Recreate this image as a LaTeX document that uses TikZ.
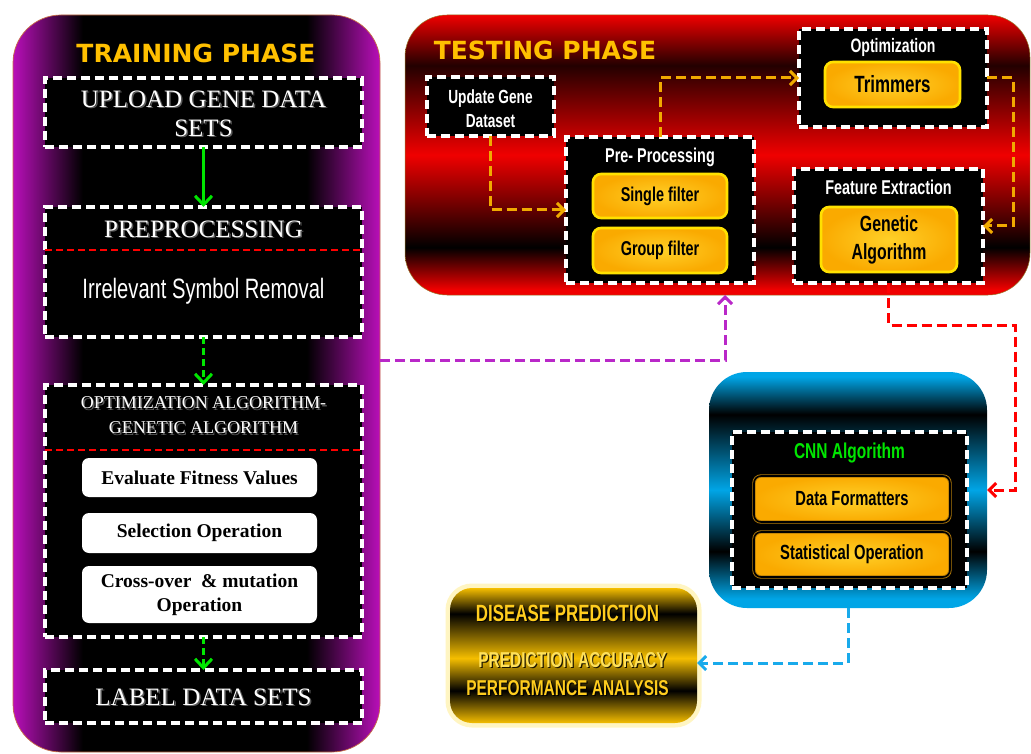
\documentclass[tikz,border=0pt]{standalone}
\usepackage{fontspec}
\setmainfont{Liberation Serif}
\newfontfamily\decofont{Liberation Serif}
\newfontfamily\condfont[FakeStretch=0.72]{Liberation Sans}
\newfontfamily\titlefont{DejaVu Sans}
\usetikzlibrary{arrows.meta,calc}

\definecolor{magc}{RGB}{185,15,185}
\definecolor{redc}{RGB}{240,0,0}
\definecolor{redk}{RGB}{35,0,0}
\definecolor{bluec}{RGB}{0,165,230}
\definecolor{goldc}{RGB}{245,190,0}
\definecolor{titlegold}{RGB}{255,192,0}
\definecolor{olight}{RGB}{255,208,40}
\definecolor{odark}{RGB}{250,170,0}
\definecolor{oedge}{RGB}{255,225,0}
\definecolor{cbrown}{RGB}{175,120,10}
\definecolor{arrowor}{RGB}{240,170,0}
\definecolor{greenc}{RGB}{0,230,0}
\definecolor{purpc}{RGB}{185,40,200}
\definecolor{arrowblue}{RGB}{25,170,235}
\definecolor{cnngreen}{RGB}{0,230,0}
\definecolor{disgold}{RGB}{255,205,30}
\definecolor{decoshadow}{RGB}{90,90,90}

\pgfdeclarehorizontalshading{trainsh}{100bp}{color(0bp)=(magc); color(25bp)=(magc); color(34.5bp)=(black); color(65bp)=(black); color(75bp)=(magc); color(100bp)=(magc)}
\pgfdeclareverticalshading{testsh}{100bp}{color(0bp)=(redc); color(26bp)=(redc); color(33.5bp)=(black); color(50bp)=(redc); color(66bp)=(redk); color(75bp)=(redc); color(100bp)=(redc)}
\pgfdeclareverticalshading{cnnsh}{100bp}{color(0bp)=(bluec); color(27bp)=(bluec); color(37bp)=(black); color(50bp)=(bluec); color(66bp)=(black); color(74bp)=(bluec); color(100bp)=(bluec)}
\pgfdeclareverticalshading{dissh}{100bp}{color(0bp)=(goldc); color(25bp)=(goldc); color(37bp)=(black); color(49bp)=(goldc); color(65.5bp)=(black); color(75bp)=(goldc); color(100bp)=(goldc)}

\tikzset{
  dbox/.style={draw=white, fill=black, line width=3.2pt, dash pattern=on 9pt off 5pt, inner sep=0pt, outer sep=0pt},
  obox/.style={draw=oedge, line width=2.6pt, rounded corners=8pt, inner color=olight, outer color=odark, inner sep=0pt, outer sep=0pt, text=black, align=center},
  cbox/.style={draw=cbrown, double=black, double distance=1.6pt, line width=0.9pt, rounded corners=7pt, inner color=olight, outer color=odark, inner sep=0pt, text=black, font=\condfont\bfseries\fontsize{20.5}{24}\selectfont},
  wbox/.style={fill=white, rounded corners=7pt, inner sep=0pt, align=center, text=black, font=\bfseries\fontsize{19.5}{24}\selectfont},
  deco/.style={text=white, inner sep=0pt, align=center, font=\decofont\fontsize{25}{29}\selectfont},
  decosh/.style={deco, text=decoshadow},
  cond/.style={text=white, inner sep=0pt, align=center, font=\condfont\bfseries\fontsize{20}{24}\selectfont},
  phasetitle/.style={text=titlegold, inner sep=0pt, font=\titlefont\bfseries\fontsize{25}{30}\selectfont},
  distxt/.style={text=disgold, inner sep=0pt, font=\condfont\bfseries\fontsize{21.5}{26}\selectfont},
  disshadow/.style={text=black, opacity=0.85, inner sep=0pt, font=\condfont\bfseries\fontsize{21.5}{26}\selectfont},
  tip/.style={-{Straight Barb[length=7pt,width=14pt,line width=3pt]}},
  garrow/.style={-{Straight Barb[length=9pt,width=17pt,line width=3pt]}, draw=greenc, line width=3.2pt},
  gdarrow/.style={garrow, dash pattern=on 7pt off 4pt},
  oarrow/.style={tip, draw=arrowor, line width=3pt, dash pattern=on 10pt off 5pt},
  rarrow/.style={tip, draw=red, line width=3pt, dash pattern=on 10pt off 5pt},
  parrow/.style={tip, draw=purpc, line width=3pt, dash pattern=on 10pt off 5pt},
  barrow/.style={tip, draw=arrowblue, line width=3pt, dash pattern=on 10pt off 5pt},
  sepline/.style={draw=red, line width=2.2pt, dash pattern=on 7pt off 4pt},
}

\begin{document}
\begin{tikzpicture}[x=1pt,y=-1pt]
\useasboundingbox (0,0) rectangle (1031,754);
\fill[white] (0,0) rectangle (1031,754);

% ---------------- TRAINING PHASE ----------------
\node[shade, shading=trainsh, draw={rgb,255:red,200;green,110;blue,70}, line width=0.7pt,
      rounded corners=48pt, minimum width=367pt, minimum height=737pt, inner sep=0pt, outer sep=0pt]
      (train) at (196.5,383.5) {};
\node[phasetitle] (trtitle) at (196,53) {TRAINING PHASE};

\node[dbox, minimum width=317pt, minimum height=69pt] (upl) at (203.5,112.5) {};
\node[decosh] (upltxts) at (205,115) {UPLOAD GENE DATA\\SETS};
\node[deco] (upltxt) at (203.5,113.5) {UPLOAD GENE DATA\\SETS};

\node[dbox, minimum width=317pt, minimum height=130pt] (prep) at (203.5,272) {};
\draw[sepline] ([yshift=-43pt]prep.north west) -- ([yshift=-43pt]prep.north east);
\node[decosh] (preptitles) at (205,230.5) {PREPROCESSING};
\node[deco] (preptitle) at (203.5,229) {PREPROCESSING};
\node[cond, font=\condfont\fontsize{28}{32}\selectfont] (preptxt) at (203.5,291) {Irrelevant Symbol Removal};

\node[dbox, minimum width=317pt, minimum height=252pt] (opt) at (203.5,511) {};
\draw[sepline] ([yshift=-65pt]opt.north west) -- ([yshift=-65pt]opt.north east);
\node[decosh, font=\decofont\fontsize{18}{25}\selectfont] (opttitles) at (205,417) {OPTIMIZATION ALGORITHM-\\GENETIC ALGORITHM};
\node[deco, font=\decofont\fontsize{18}{25}\selectfont] (opttitle) at (203.5,415.5) {OPTIMIZATION ALGORITHM-\\GENETIC ALGORITHM};
\node[wbox, minimum width=235pt, minimum height=39pt] (ev) at (199.5,477.5) {Evaluate Fitness Values};
\node[wbox, minimum width=235pt, minimum height=40pt] (sel) at (199.5,533) {Selection Operation};
\node[wbox, minimum width=235pt, minimum height=57pt] (cro) at (199.5,594.5) {Cross-over \ \& mutation\\Operation};

\node[dbox, minimum width=317pt, minimum height=53pt] (lab) at (203.5,696.5) {};
\node[decosh] (labtxts) at (205,698.5) {LABEL DATA SETS};
\node[deco] (labtxt) at (203.5,697) {LABEL DATA SETS};

\draw[garrow] (upl.south) -- (prep.north);
\draw[gdarrow] (prep.south) -- (opt.north);
\draw[gdarrow] (opt.south) -- (lab.north);

% ---------------- TESTING PHASE ----------------
\node[shade, shading=testsh, draw={rgb,255:red,150;green,120;blue,40}, line width=0.5pt,
      rounded corners=42pt, minimum width=625pt, minimum height=280pt, inner sep=0pt, outer sep=0pt]
      (test) at (717.5,155) {};
\node[phasetitle] (tetitle) at (545,50) {TESTING PHASE};

\node[dbox, minimum width=127pt, minimum height=59pt] (upd) at (490.5,106.5) {};
\node[cond, font=\condfont\bfseries\fontsize{19}{24}\selectfont] (updtxt) at (490.5,109) {Update Gene\\Dataset};

\node[dbox, minimum width=188pt, minimum height=146pt] (pre) at (660,210) {};
\node[cond] (pretitle) at (660,157) {Pre- Processing};
\node[obox, minimum width=134pt, minimum height=44pt, font=\condfont\bfseries\fontsize{20}{22}\selectfont] (single) at (660,196) {Single filter};
\node[obox, minimum width=134pt, minimum height=45pt, font=\condfont\bfseries\fontsize{20}{22}\selectfont] (group) at (660,250.5) {Group filter};

\node[dbox, minimum width=188pt, minimum height=98pt] (optb) at (893,78) {};
\node[cond, font=\condfont\bfseries\fontsize{19.5}{24}\selectfont] (optbtitle) at (893,47) {Optimization};
\node[obox, minimum width=135pt, minimum height=45pt, font=\condfont\bfseries\fontsize{23.5}{26}\selectfont] (trim) at (892.5,84.5) {Trimmers};

\node[dbox, minimum width=189pt, minimum height=114pt] (feat) at (888.5,226) {};
\node[cond] (feattitle) at (888.5,187) {Feature Extraction};
\node[obox, minimum width=136pt, minimum height=65pt, font=\condfont\bfseries\fontsize{22}{28}\selectfont] (gen) at (889,239.5) {Genetic\\Algorithm};

\draw[oarrow] (upd.south) |- (pre.west);
\draw[oarrow] (pre.north) |- (optb.west);
\draw[oarrow] (optb.east) -- ++(26,0) |- (feat.east);

% ---------------- CNN ----------------
\node[shade, shading=cnnsh, rounded corners=38pt, minimum width=278pt, minimum height=236pt, inner sep=0pt, outer sep=0pt]
      (cnn) at (848,490) {};
\node[dbox, minimum width=235pt, minimum height=156pt] (cnnb) at (849.5,510) {};
\node[cond, text=cnngreen, font=\condfont\bfseries\fontsize{21.5}{24}\selectfont] (cnntitle) at (849.5,453) {CNN Algorithm};
\node[cbox, minimum width=196pt, minimum height=46pt] (df) at (852,499) {Data Formatters};
\node[cbox, minimum width=196pt, minimum height=45pt] (so) at (852,554.5) {Statistical Operation};

% ---------------- DISEASE PREDICTION ----------------
\node[shade, shading=dissh, rounded corners=22pt, minimum width=247pt, minimum height=135pt, inner sep=0pt, outer sep=0pt,
      preaction={draw={rgb,255:red,255;green,235;blue,120}, line width=9pt, opacity=0.45, rounded corners=22pt}]
      (dis) at (573.5,655.5) {};
\node[disshadow, font=\condfont\bfseries\fontsize{23.5}{28}\selectfont] (dt1s) at (568.7,614.2) {DISEASE PREDICTION};
\node[distxt, font=\condfont\bfseries\fontsize{23.5}{28}\selectfont] (dt1) at (567.5,613) {DISEASE PREDICTION};
\node[disshadow] (dt2s) at (573.7,661.2) {PREDICTION ACCURACY};
\node[distxt, text={rgb,255:red,255;green,225;blue,90}] (dt2) at (572.5,660) {PREDICTION ACCURACY};
\node[disshadow] (dt3s) at (568.7,689.2) {PERFORMANCE ANALYSIS};
\node[distxt] (dt3) at (567.5,688) {PERFORMANCE ANALYSIS};

% ---------------- cross connectors ----------------
\coordinate (pc) at (725,360);
\draw[parrow] (pc -| train.east) -- (pc) -- (pc |- test.south);
\coordinate (rc) at (1015,325);
\draw[rarrow] (feat.south) |- (rc) |- (cnn.east);
\draw[barrow] (cnn.south) |- ([yshift=-7.5pt]dis.east);
\end{tikzpicture}
\end{document}
